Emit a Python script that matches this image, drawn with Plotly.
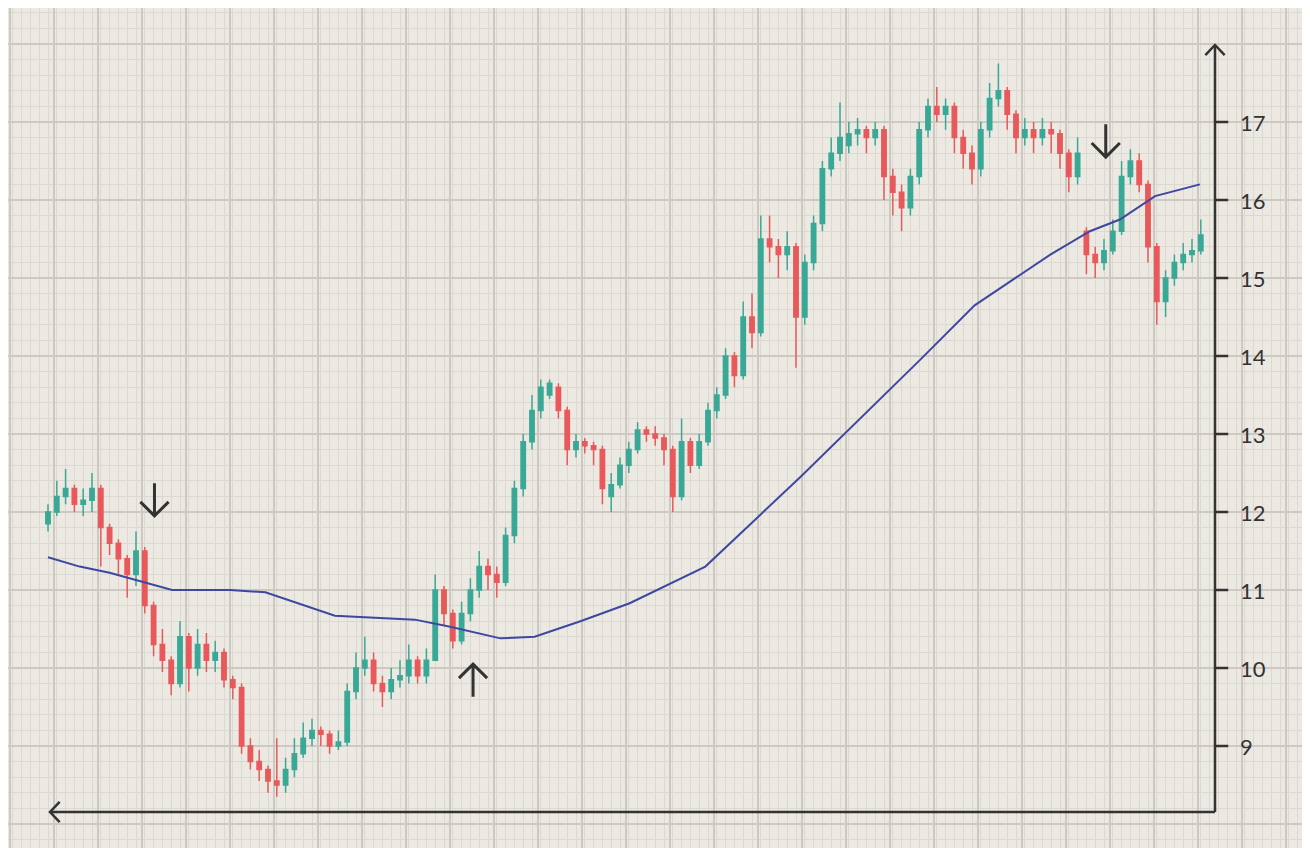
import plotly.graph_objects as go

opens = [11.85,12.0,12.2,12.3,12.1,12.15,12.3,11.8,11.6,11.4,11.2,11.5,10.8,10.3,10.1,9.8,10.4,10.0,10.3,10.1,10.2,9.85,9.75,9.0,8.8,8.7,8.55,8.5,8.7,8.9,
         9.1,9.2,9.15,9.0,9.05,9.7,10.0,10.1,9.8,9.7,9.85,9.9,10.1,9.9,10.1,11.0,10.7,10.35,10.7,11.0,11.3,11.2,11.1,11.7,12.3,12.9,13.3,13.5,13.6,13.3,
         12.8,12.9,12.85,12.8,12.2,12.35,12.6,12.8,13.05,13.0,12.95,12.8,12.2,12.9,12.6,12.9,13.3,13.5,14.0,13.75,14.5,14.3,15.5,15.4,15.3,15.4,14.5,15.2,15.7,16.4,
         16.6,16.7,16.85,16.9,16.8,16.9,16.3,16.1,15.9,16.3,16.9,17.2,17.1,17.2,16.8,16.6,16.4,16.9,17.3,17.4,17.1,16.8,16.9,16.8,16.9,16.85,16.6,16.3,15.6,15.3,
         15.2,15.35,15.6,16.3,16.5,16.2,15.4,14.7,15.0,15.2,15.3,15.35]
closes = [12.0,12.2,12.3,12.1,12.15,12.3,11.8,11.6,11.4,11.2,11.5,10.8,10.3,10.1,9.8,10.4,10.0,10.3,10.1,10.2,9.85,9.75,9.0,8.8,8.7,8.55,8.5,8.7,8.9,9.1,
          9.2,9.15,9.0,9.05,9.7,10.0,10.1,9.8,9.7,9.85,9.9,10.1,9.9,10.1,11.0,10.7,10.35,10.7,11.0,11.3,11.2,11.1,11.7,12.3,12.9,13.3,13.6,13.65,13.3,12.8,
          12.9,12.85,12.8,12.3,12.35,12.6,12.8,13.05,13.0,12.95,12.8,12.2,12.9,12.6,12.9,13.3,13.5,14.0,13.75,14.5,14.3,15.5,15.4,15.3,15.4,14.5,15.2,15.7,16.4,16.6,
          16.8,16.85,16.9,16.8,16.9,16.3,16.1,15.9,16.3,16.9,17.2,17.1,17.2,16.8,16.6,16.4,16.9,17.3,17.4,17.1,16.8,16.9,16.8,16.9,16.85,16.6,16.3,16.6,15.3,15.2,
          15.35,15.6,16.3,16.5,16.2,15.4,14.7,15.0,15.2,15.3,15.35,15.55]
highs = [12.1,12.4,12.55,12.35,12.3,12.5,12.35,11.85,11.65,11.45,11.75,11.55,10.85,10.5,10.15,10.6,10.45,10.5,10.45,10.35,10.25,9.9,9.8,9.1,8.95,8.75,9.1,8.85,9.1,9.3,
         9.35,9.25,9.2,9.2,9.8,10.2,10.4,10.2,9.9,10.0,10.1,10.3,10.15,10.25,11.2,11.05,10.75,10.85,11.15,11.5,11.4,11.3,11.8,12.4,13.0,13.5,13.7,13.7,13.65,13.35,
         13.0,12.95,12.9,12.85,12.5,12.7,12.9,13.15,13.1,13.1,13.0,12.85,13.2,12.95,13.0,13.4,13.6,14.1,14.05,14.7,14.8,15.8,15.8,15.5,15.6,15.45,15.3,15.8,16.5,16.8,
         17.25,17.0,17.05,16.95,17.0,16.95,16.4,16.2,16.4,17.0,17.3,17.45,17.3,17.25,16.9,16.7,17.0,17.5,17.75,17.45,17.15,17.05,17.0,17.05,17.0,16.9,16.65,16.8,15.65,15.4,
         15.5,15.75,16.5,16.65,16.6,16.25,15.45,15.1,15.3,15.45,15.5,15.75]
lows = [11.75,11.95,12.1,12.0,11.95,12.0,11.3,11.45,11.2,10.9,11.05,10.7,10.15,9.95,9.65,9.75,9.7,9.9,9.95,9.95,9.75,9.6,8.9,8.7,8.55,8.4,8.35,8.4,8.6,8.85,
        9.0,9.0,8.9,8.95,9.0,9.6,9.9,9.7,9.5,9.6,9.75,9.8,9.8,9.8,10.5,10.55,10.25,10.3,10.6,10.9,11.0,10.9,11.05,11.6,12.2,12.8,13.2,13.45,13.2,12.6,
        12.7,12.75,12.6,12.1,12.0,12.3,12.5,12.75,12.9,12.85,12.6,12.0,12.15,12.5,12.55,12.85,13.2,13.45,13.6,13.7,14.1,14.25,15.2,15.0,15.1,13.85,14.4,15.1,15.6,16.3,
        16.5,16.6,16.7,16.6,16.7,16.0,15.8,15.6,15.8,16.2,16.8,17.0,16.9,16.6,16.4,16.2,16.3,16.8,17.2,16.9,16.6,16.7,16.6,16.7,16.6,16.4,16.1,16.2,15.05,15.0,
        15.1,15.3,15.55,16.2,16.1,15.2,14.4,14.5,14.9,15.1,15.2,15.3]
bar_index = list(range(len(closes)))

ma_x = [0,3.6,7.0,11.0,14.1,20.7,24.7,32.6,41.7,45.7,51.4,55.3,60.5,66.1,74.7,85.5,99.1,105.3,113.9,118.4,121.8,125.8,130.9]
ma_y = [11.42,11.3,11.22,11.1,11.0,11.0,10.97,10.67,10.62,10.53,10.38,10.4,10.6,10.83,11.3,12.45,13.95,14.65,15.3,15.6,15.75,16.05,16.2]

y_ticks = [9,10,11,12,13,14,15,16,17]

# signal arrows: (bar position, price at tip, direction)
signal_x = [12.1, 48.3, 120.2]
signal_y = [11.95, 10.05, 16.55]
signal_dir = ["down", "up", "down"]

INK = "#333333"
fig = go.Figure()
fig.add_trace(go.Candlestick(x=bar_index, open=opens, high=highs, low=lows, close=closes,
                             increasing=dict(line=dict(color="#3aa896", width=1.5), fillcolor="#3aa896"),
                             decreasing=dict(line=dict(color="#e8595b", width=1.5), fillcolor="#e8595b"),
                             whiskerwidth=0, showlegend=False, hoverinfo="skip"))
fig.add_trace(go.Scatter(x=ma_x, y=ma_y, mode="lines", line=dict(color="#3e48a0", width=2),
                         showlegend=False, hoverinfo="skip"))

OFF = 8  # page offset of the figure
XL, XR = (OFF-48)/8.8, (1310+OFF-48)/8.8
YT, YB = 17 + (122-OFF)/78, 17 - (848+OFF-122)/78
ax_x = (1215-48)/8.8
ax_y = 17 - (812-122)/78
top_y = 17 - (45-122)/78
left_x = (50-48)/8.8

shapes = []
shapes.append(dict(type="line", x0=left_x, x1=ax_x, y0=ax_y, y1=ax_y, line=dict(color=INK, width=2.5)))
shapes.append(dict(type="line", x0=ax_x, x1=ax_x, y0=ax_y, y1=top_y, line=dict(color=INK, width=2.5)))
shapes.append(dict(type="path", path=f"M {ax_x-1.1},{top_y-0.13} L {ax_x},{top_y} L {ax_x+1.1},{top_y-0.13}",
                   line=dict(color=INK, width=2.5)))
shapes.append(dict(type="path", path=f"M {left_x+1.1},{ax_y+0.13} L {left_x},{ax_y} L {left_x+1.1},{ax_y-0.13}",
                   line=dict(color=INK, width=2.5)))
for t in y_ticks:
    shapes.append(dict(type="line", x0=ax_x, x1=ax_x+1.5, y0=t, y1=t, line=dict(color=INK, width=2.5)))
for sx, sy, d in zip(signal_x, signal_y, signal_dir):
    L = 0.42
    if d == "down":
        path = f"M {sx},{sy+L} L {sx},{sy} M {sx-1.6},{sy+0.18} L {sx},{sy} L {sx+1.6},{sy+0.18}"
    else:
        path = f"M {sx},{sy-L} L {sx},{sy} M {sx-1.6},{sy-0.18} L {sx},{sy} L {sx+1.6},{sy-0.18}"
    shapes.append(dict(type="path", path=path, line=dict(color=INK, width=3)))

annotations = [dict(x=ax_x+2.6, y=t, text=str(t), showarrow=False, xanchor="left",
                    font=dict(family="Lato", size=22, color=INK)) for t in y_ticks]

fig.update_layout(
    width=1310, height=848, margin=dict(l=0, r=0, t=0, b=0),
    paper_bgcolor="#ece8e2", plot_bgcolor="#ece8e2",
    shapes=shapes, annotations=annotations,
    xaxis=dict(range=[XL, XR], showticklabels=False, zeroline=False, rangeslider=dict(visible=False),
               showgrid=True, gridcolor="#cdc8c1", gridwidth=1.5, tick0=(98-48)/8.8, dtick=5,
               minor=dict(dtick=1, showgrid=True, gridcolor="#ddd8d1", gridwidth=1), fixedrange=True),
    yaxis=dict(range=[YB, YT], showticklabels=False, zeroline=False,
               showgrid=True, gridcolor="#cdc8c1", gridwidth=1.5, tick0=0, dtick=1,
               minor=dict(dtick=0.2, showgrid=True, gridcolor="#ddd8d1", gridwidth=1), fixedrange=True),
)
fig.write_html("out.html")
